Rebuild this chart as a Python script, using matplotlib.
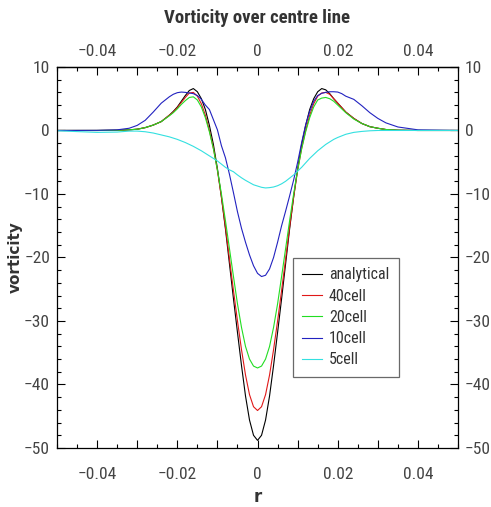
import matplotlib
matplotlib.use("Agg")
import matplotlib.pyplot as plt
from matplotlib.ticker import MultipleLocator, FixedLocator, FuncFormatter

plt.rcParams["font.family"] = ["Roboto Condensed", "Roboto", "DejaVu Sans"]

# radial positions (common grid for all series)
r = [-0.05, -0.04, -0.035, -0.032, -0.03, -0.028, -0.026, -0.024, -0.022, -0.021,
     -0.02, -0.019, -0.018, -0.017, -0.016, -0.015, -0.014, -0.013, -0.012, -0.011,
     -0.01, -0.009, -0.008, -0.007, -0.006, -0.005, -0.004, -0.003, -0.002, -0.001,
     0.0,
     0.001, 0.002, 0.003, 0.004, 0.005, 0.006, 0.007, 0.008, 0.009, 0.01,
     0.011, 0.012, 0.013, 0.014, 0.015, 0.016, 0.017, 0.018, 0.019, 0.02,
     0.021, 0.022, 0.024, 0.026, 0.028, 0.03, 0.032, 0.035, 0.04, 0.05]

analytical = [0, 0, 0.03, 0.1, 0.2, 0.45, 0.85, 1.4, 2.4, 3.0,
              3.7, 4.6, 5.5, 6.3, 6.6, 6.1, 5.0, 3.3, 0.8, -2.2,
              -6.0, -10.5, -15.5, -21.0, -26.5, -31.8, -37.0, -41.8, -45.6, -48.0,
              -48.8,
              -48.0, -45.6, -41.8, -37.0, -31.8, -26.5, -21.0, -15.5, -10.5, -6.0,
              -2.2, 0.8, 3.3, 5.0, 6.1, 6.6, 6.4, 5.8, 5.0, 4.3,
              3.6, 2.9, 1.9, 1.1, 0.6, 0.35, 0.15, 0.04, 0, 0]

cell40 = [0, 0, 0.03, 0.1, 0.2, 0.45, 0.85, 1.4, 2.4, 2.9,
          3.6, 4.4, 5.2, 5.9, 6.0, 5.4, 4.2, 2.4, 0.0, -2.8,
          -6.3, -10.5, -15.2, -20.2, -25.2, -30.0, -34.5, -38.5, -41.6, -43.5,
          -44.1,
          -43.5, -41.6, -38.5, -34.5, -30.0, -25.2, -20.2, -15.2, -10.5, -6.3,
          -2.8, 0.0, 2.4, 4.2, 5.4, 5.9, 6.0, 5.7, 5.0, 4.3,
          3.6, 2.9, 1.9, 1.1, 0.6, 0.35, 0.15, 0.04, 0, 0]

cell20 = [0, 0, 0.03, 0.1, 0.2, 0.45, 0.85, 1.4, 2.3, 2.8,
          3.4, 4.1, 4.7, 5.2, 5.3, 4.8, 3.7, 2.0, -0.2, -2.9,
          -6.2, -10.0, -14.2, -18.6, -23.0, -27.3, -31.0, -34.0, -36.0, -37.1,
          -37.4,
          -37.1, -36.0, -34.0, -31.0, -27.3, -23.0, -18.6, -14.2, -10.0, -6.2,
          -2.9, -0.2, 2.0, 3.7, 4.8, 5.1, 5.2, 5.0, 4.6, 4.0,
          3.4, 2.8, 1.8, 1.1, 0.6, 0.35, 0.15, 0.04, 0, 0]

cell10 = [0, 0.02, 0.1, 0.35, 0.8, 1.6, 2.9, 4.3, 5.3, 5.7,
          5.95, 6.05, 6.0, 5.9, 5.8, 5.5, 4.9, 4.0, 3.3, 1.7,
          0.1, -2.4, -4.3, -6.9, -9.8, -12.8, -15.4, -17.6, -19.6, -21.3,
          -22.5,
          -23.0, -22.8, -21.8, -20.0, -17.6, -15.0, -12.7, -10.3, -7.8, -5.0,
          -1.9, 0.9, 3.0, 4.6, 5.5, 5.85, 6.0, 6.1, 6.1, 6.05,
          5.8, 5.4, 4.9, 3.9, 2.8, 1.9, 1.2, 0.55, 0.1, 0]

cell5 = [-0.05, -0.3, -0.25, -0.1, -0.1, -0.2, -0.4, -0.7, -1.0, -1.2,
         -1.4, -1.65, -1.9, -2.2, -2.5, -2.85, -3.2, -3.6, -4.0, -4.4,
         -4.8, -5.3, -5.8, -6.2, -6.5, -7.0, -7.45, -7.85, -8.2, -8.55,
         -8.75,
         -8.95, -9.05, -9.0, -8.9, -8.7, -8.4, -8.0, -7.5, -7.0, -6.4,
         -5.8, -5.1, -4.4, -3.8, -3.2, -2.7, -2.2, -1.8, -1.4, -1.1,
         -0.85, -0.6, -0.3, -0.15, -0.05, 0, 0, 0, 0, 0]

series = [
    ("analytical", analytical, "#000000"),
    ("40cell", cell40, "#e01818"),
    ("20cell", cell20, "#22dd22"),
    ("10cell", cell10, "#2222c0"),
    ("5cell", cell5, "#33e0e0"),
]

# major ticks every 0.01, only every other one is labelled
x_major = [-0.04, -0.03, -0.02, -0.01, 0.0, 0.01, 0.02, 0.03, 0.04]
x_labels = ["\u22120.04", "", "\u22120.02", "", "0", "", "0.02", "", "0.04"]

txt_col = "#444444"


def xfmt(v, pos):
    return x_labels[pos]


def yfmt(v, pos):
    return f"{int(round(v))}".replace("-", "\u2212")


fig = plt.figure(figsize=(4.91, 5.07), dpi=100)
ax = fig.add_axes([0.116, 0.1164, 0.817, 0.7515])

for label, vals, col in series:
    ax.plot(r, vals, color=col, lw=0.8, label=label)

ax.set_xlim(-0.05, 0.05)
ax.set_ylim(-50, 10)

ax.xaxis.set_major_locator(FixedLocator(x_major))
ax.xaxis.set_minor_locator(MultipleLocator(0.005))
ax.xaxis.set_major_formatter(FuncFormatter(xfmt))
ax.yaxis.set_major_locator(MultipleLocator(10))
ax.yaxis.set_minor_locator(MultipleLocator(2))
ax.yaxis.set_major_formatter(FuncFormatter(yfmt))

ax.tick_params(which="both", direction="in", top=False, right=True,
               labelright=True, labelsize=12.5, labelcolor=txt_col, width=0.8)
ax.tick_params(which="major", length=6)
ax.tick_params(which="minor", length=3)
ax.tick_params(axis="x", which="major", pad=14)
ax.tick_params(axis="y", which="major", pad=5)

# top axis with its own label spacing
top = ax.secondary_xaxis("top")
top.xaxis.set_major_locator(FixedLocator(x_major))
top.xaxis.set_minor_locator(MultipleLocator(0.005))
top.xaxis.set_major_formatter(FuncFormatter(xfmt))
top.tick_params(which="both", direction="in", labelsize=12.5, labelcolor=txt_col, width=0.8)
top.tick_params(which="major", length=6, pad=6)
top.tick_params(which="minor", length=3)

for sp in list(ax.spines.values()) + list(top.spines.values()):
    sp.set_linewidth(0.9)

ax.set_xlabel("r", fontsize=12, fontweight="bold", color="#333333", family="DejaVu Sans")
ax.xaxis.set_label_coords(0.5, -0.104)
ax.set_ylabel("vorticity", fontsize=11, fontweight="bold", color="#333333", family="DejaVu Sans")
ax.yaxis.set_label_coords(-0.084, 0.5)
fig.text(0.5244, 0.9645, "Vorticity over centre line", ha="center", va="center",
         fontsize=13.5, fontweight="bold", color="#333333")

leg = ax.legend(loc="upper left", bbox_to_anchor=(0.588, 0.499), fontsize=11.5,
                frameon=True, fancybox=False, handlelength=1.25, borderpad=0.6,
                labelspacing=0.39, handletextpad=0.4, borderaxespad=0)
leg.get_frame().set_edgecolor("#444444")
leg.get_frame().set_linewidth(0.9)
for t in leg.get_texts():
    t.set_color("#333333")

fig.savefig("out.png", dpi=100)
